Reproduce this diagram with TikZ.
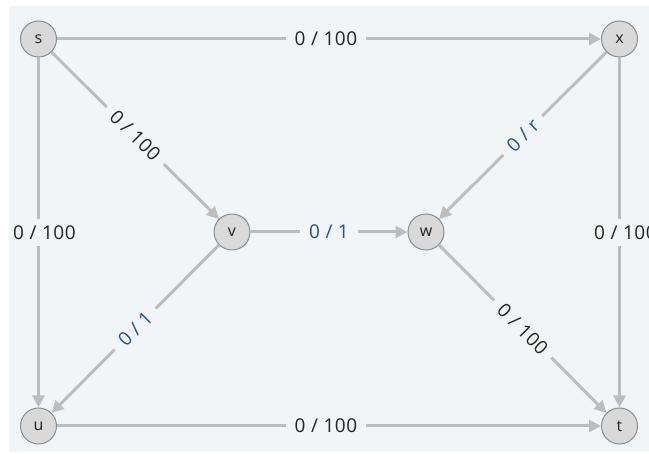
\documentclass[tikz,border=0pt]{standalone}
\usepackage{fontspec}
\setmainfont{Open Sans}
\usetikzlibrary{arrows.meta}
\definecolor{bg}{HTML}{F2F5F8}
\definecolor{edgegray}{HTML}{BDBDBD}
\definecolor{nodefill}{HTML}{D9D9D9}
\definecolor{nodeline}{HTML}{8C8C8C}
\definecolor{capblue}{HTML}{1F4E9E}
\definecolor{txt}{HTML}{222222}
\begin{document}
\begin{tikzpicture}[x=1pt,y=-1pt,
  vert/.style={circle,draw=nodeline,fill=nodefill,line width=1pt,minimum size=36pt,inner sep=0pt,font=\fontsize{16}{19}\selectfont,text=txt},
  flow/.style={draw=edgegray,line width=3pt,-{Triangle[length=12pt,width=12pt]}},
  flowlabel/.style={fill=bg,inner xsep=9pt,inner ysep=7pt,font=\fontsize{19}{22}\selectfont\addfontfeature{LetterSpace=3},text=txt},
  flowlabelb/.style={flowlabel,text=capblue}]
\useasboundingbox (0,0) rectangle (649,454);
\fill[white] (0,0) rectangle (649,454);
\fill[bg] (9,6) rectangle (649,452);
\begin{scope}
\clip (9,6) rectangle (649,452);
\node[vert] (s) at (38.5,39) {s};
\node[vert] (x) at (619.5,39) {x};
\node[vert] (v) at (232,232) {v};
\node[vert] (w) at (426,232) {w};
\node[vert] (u) at (38.5,426) {u};
\node[vert] (t) at (619.5,426) {t};
\draw[flow] (s) -- node[flowlabel,xshift=-3pt]{0 / 100} (x);
\draw[flow] (s) -- node[flowlabel,sloped]{0 / 100} (v);
\draw[flow] (s) -- node[flowlabel,xshift=6pt]{0 / 100} (u);
\draw[flow] (x) -- node[flowlabelb,sloped]{0 / r} (w);
\draw[flow] (x) -- node[flowlabel,xshift=6pt]{0 / 100} (t);
\draw[flow] (v) -- node[flowlabelb]{0 / 1} (w);
\draw[flow] (v) -- node[flowlabelb,sloped]{0 / 1} (u);
\draw[flow] (w) -- node[flowlabel,sloped]{0 / 100} (t);
\draw[flow] (u) -- node[flowlabel,xshift=-3pt]{0 / 100} (t);
\end{scope}
\end{tikzpicture}
\end{document}
